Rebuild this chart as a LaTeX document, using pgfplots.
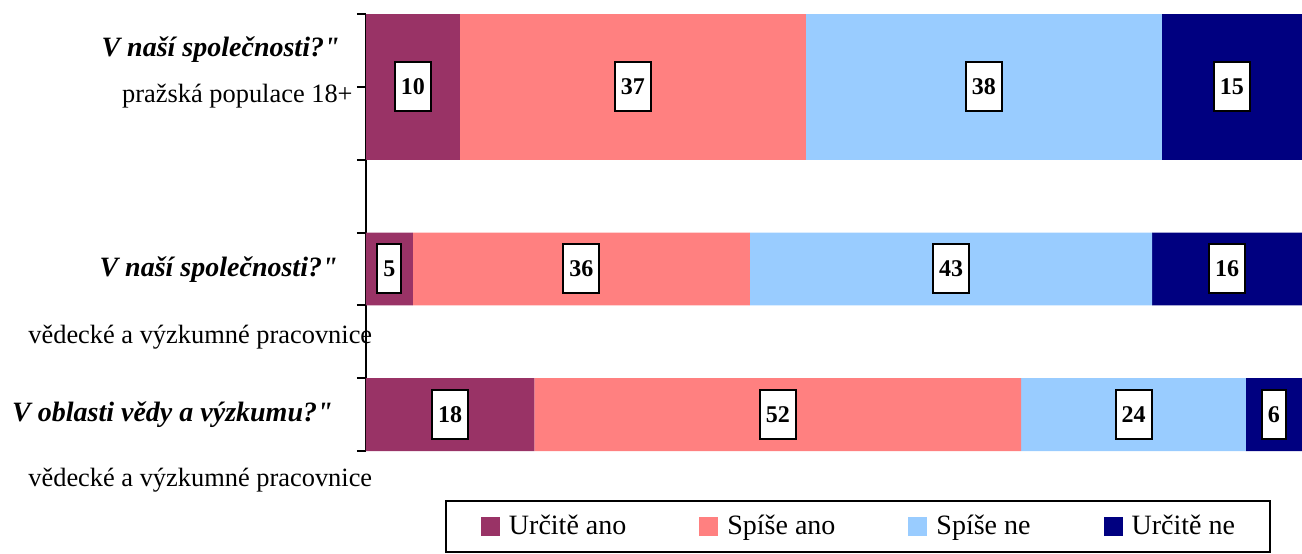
\documentclass[border=0pt]{standalone}
\usepackage{pgfplots}
\usepackage{pgfplotstable}
\pgfplotsset{compat=1.18}
\usepackage{fontspec}
\setmainfont{Liberation Serif}[Ligatures=TeXOff]
\definecolor{c1}{HTML}{993366}
\definecolor{c2}{HTML}{FF8080}
\definecolor{c3}{HTML}{99CCFF}
\definecolor{c4}{HTML}{000080}
% bottom two bars (y = category position)
\pgfplotstableread{
y a b c d
0.5 18 52 24 6
2.5 5 36 43 16
}\datab
% top bar
\pgfplotstableread{
y a b c d
5 10 37 38 15
}\datat
\newcommand{\addmids}[1]{%
  \pgfplotstablecreatecol[create col/expr={\thisrow{a}/2}]{ma}#1%
  \pgfplotstablecreatecol[create col/expr={\thisrow{a}+\thisrow{b}/2}]{mb}#1%
  \pgfplotstablecreatecol[create col/expr={\thisrow{a}+\thisrow{b}+\thisrow{c}/2}]{mc}#1%
  \pgfplotstablecreatecol[create col/expr={\thisrow{a}+\thisrow{b}+\thisrow{c}+\thisrow{d}/2}]{md}#1%
}
\addmids{\datab}
\addmids{\datat}
\begin{document}
\fontsize{13.2}{15}\selectfont
\begin{tikzpicture}
\useasboundingbox (-183pt,-51pt) rectangle (468pt,225.5pt);
\pgfplotsset{
  common/.style={
    at={(0,0)}, anchor=south west, scale only axis,
    width=468pt, height=218.5pt,
    xmin=0, xmax=100, ymin=0, ymax=6, clip=false,
  },
  lbl/.style={only marks, mark=none, nodes near coords,
    point meta=explicit symbolic,
    nodes near coords align={center},
    every node near coord/.style={anchor=center,
      fill=white, draw=black, line width=1pt,
      font=\fontsize{12}{14}\selectfont\bfseries,
      inner xsep=3pt, inner ysep=0pt, minimum height=24.5pt, text=black}},
}
\begin{axis}[common, xbar stacked, bar width=1,
  axis x line=none, axis y line*=left,
  ytick={0,1,...,6}, yticklabels={},
  tick align=outside, major tick length=4.5pt,
  axis line style={line width=1pt, black},
  tick style={line width=1pt, black},
  legend columns=4,
  legend style={at={(0.0844,-0.1121)}, anchor=north west, draw=black, line width=1pt,
    inner xsep=17.5pt, inner ysep=7pt,
    font=\fontsize{14}{16}\selectfont,
    nodes={inner sep=0pt},
    /tikz/every odd column/.append style={column sep=4.5pt},
    /tikz/every even column/.append style={column sep=36.5pt}},
  legend image code/.code={\fill[#1,draw=none] (0pt,-4.75pt) rectangle (9.5pt,4.75pt);},
]
\addplot[fill=c1, draw=none] table[x=a, y=y] {\datab};
\addplot[fill=c2, draw=none] table[x=b, y=y] {\datab};
\addplot[fill=c3, draw=none] table[x=c, y=y] {\datab};
\addplot[fill=c4, draw=none] table[x=d, y=y] {\datab};
\legend{Určitě ano, Spíše ano, Spíše ne, Určitě ne}
\node[anchor=east, inner sep=0pt, font=\fontsize{14}{16}\selectfont\bfseries\itshape] at ([xshift=-13pt]axis cs:0,5.51) {V naší společnosti?"};
\node[anchor=east, inner sep=0pt] at ([xshift=-6.5pt]axis cs:0,4.87) {pražská populace 18+};
\node[anchor=east, inner sep=0pt, font=\fontsize{14}{16}\selectfont\bfseries\itshape] at ([xshift=-14pt]axis cs:0,2.485) {V naší společnosti?"};
\node[anchor=west, inner sep=0pt] at ([xshift=-169pt]axis cs:0,1.565) {vědecké a výzkumné pracovnice};
\node[anchor=east, inner sep=0pt, font=\fontsize{14}{16}\selectfont\bfseries\itshape] at ([xshift=-16.5pt]axis cs:0,0.494) {V oblasti vědy a výzkumu?"};
\node[anchor=west, inner sep=0pt] at ([xshift=-169pt]axis cs:0,-0.398) {vědecké a výzkumné pracovnice};
\end{axis}
\begin{axis}[common, xbar stacked, bar width=2, hide axis]
\addplot[fill=c1, draw=none] table[x=a, y=y] {\datat};
\addplot[fill=c2, draw=none] table[x=b, y=y] {\datat};
\addplot[fill=c3, draw=none] table[x=c, y=y] {\datat};
\addplot[fill=c4, draw=none] table[x=d, y=y] {\datat};
\end{axis}
\begin{axis}[common, hide axis]
\addplot[lbl] table[x=ma, y=y, meta=a] {\datab};
\addplot[lbl] table[x=mb, y=y, meta=b] {\datab};
\addplot[lbl] table[x=mc, y=y, meta=c] {\datab};
\addplot[lbl] table[x=md, y=y, meta=d] {\datab};
\addplot[lbl] table[x=ma, y=y, meta=a] {\datat};
\addplot[lbl] table[x=mb, y=y, meta=b] {\datat};
\addplot[lbl] table[x=mc, y=y, meta=c] {\datat};
\addplot[lbl] table[x=md, y=y, meta=d] {\datat};
\end{axis}
\end{tikzpicture}
\end{document}
